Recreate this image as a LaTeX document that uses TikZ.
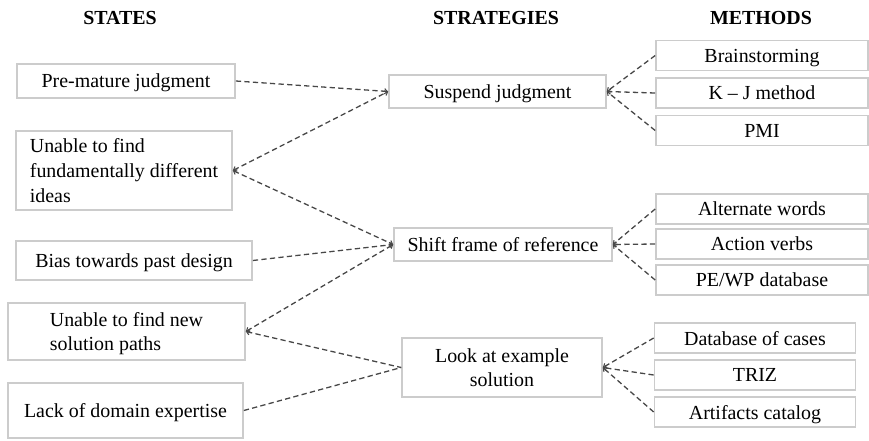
\documentclass[tikz,border=0pt]{standalone}
\usepackage{fontspec}
\setmainfont{Liberation Serif}
\usetikzlibrary{arrows.meta,positioning}

\begin{document}
\begin{tikzpicture}[x=0.03cm,y=-0.03cm,
  box/.style={draw=black!20, line width=1.4pt, fill=white, inner sep=2pt,
    font=\fontsize{17}{21}\selectfont, align=left, text depth=0pt},
  head/.style={font=\fontsize{17}{21}\selectfont\bfseries},
  link/.style={draw=black!72, line width=1.1pt, dash pattern=on 4.5pt off 2.8pt},
  tip/.tip={Straight Barb[length=2.5pt,width=4.5pt,line width=0.9pt]}]
  \useasboundingbox (0,0) rectangle (869,440);

  % column titles
  \node[head] (hStates) at (120,18) {STATES};
  \node[head] (hStrat) at (496,18) {STRATEGIES};
  \node[head] (hMeth) at (761,18) {METHODS};

  % states
  \node[box, minimum width=6.54cm, minimum height=1.02cm] (S1) at (126,81) {Pre-mature judgment};
  \node[box, minimum width=6.48cm, minimum height=2.37cm] (S2) at (124,170.5) {Unable to find\\fundamentally different\\ideas};
  \node[box, minimum width=7.08cm, minimum height=1.17cm] (S3) at (134,260.5) {Bias towards past design};
  \node[box, minimum width=7.11cm, minimum height=1.71cm] (S4) at (126.5,331.5) {Unable to find new\\solution paths};
  \node[box, minimum width=7.05cm, minimum height=1.65cm] (S5) at (125.5,410.5) {Lack of domain expertise};

  % strategies
  \node[box, minimum width=6.51cm, minimum height=0.99cm] (T1) at (497.5,91.5) {Suspend judgment};
  \node[box, minimum width=6.54cm, minimum height=0.99cm] (T2) at (503,244.5) {Shift frame of reference};
  \node[box, align=center, minimum width=6.0cm, minimum height=1.77cm] (T3) at (502,367.5) {Look at example\\solution};

  % methods
  \foreach \i/\name/\x/\y/\w in {%
    1/Brainstorming/762/55.5/6.36,%
    2/K -- J method/762/93/6.36,%
    3/PMI/762/130.5/6.36,%
    4/Alternate words/762/209/6.36,%
    5/Action verbs/762/244/6.36,%
    6/PE\slash WP database/762/280/6.36,%
    7/Database of cases/755/338/6.03,%
    8/TRIZ/755/375/6.03,%
    9/Artifacts catalog/755/412/6.03%
  }{
    \node[box, align=center, minimum width=\w cm, minimum height=0.9cm] (M\i) at (\x,\y) {\name};
  }

  % states to strategies
  \draw[link,-tip] (S1.east) -- (T1.west);
  \draw[link,tip-tip] (S2.east) -- (T1.west);
  \draw[link,tip-tip] (S2.east) -- (T2.west);
  \draw[link,-tip] (S3.east) -- (T2.west);
  \draw[link,tip-tip] (S4.east) -- (T2.west);
  \draw[link,tip-] (S4.east) -- (T3.west);
  \draw[link] (S5.east) -- (T3.west);

  % methods to strategies
  \foreach \m/\t in {1/1,2/1,3/1,4/2,5/2,6/2,7/3,8/3,9/3}
    \draw[link,-tip] (M\m.west) -- (T\t.east);
\end{tikzpicture}
\end{document}
